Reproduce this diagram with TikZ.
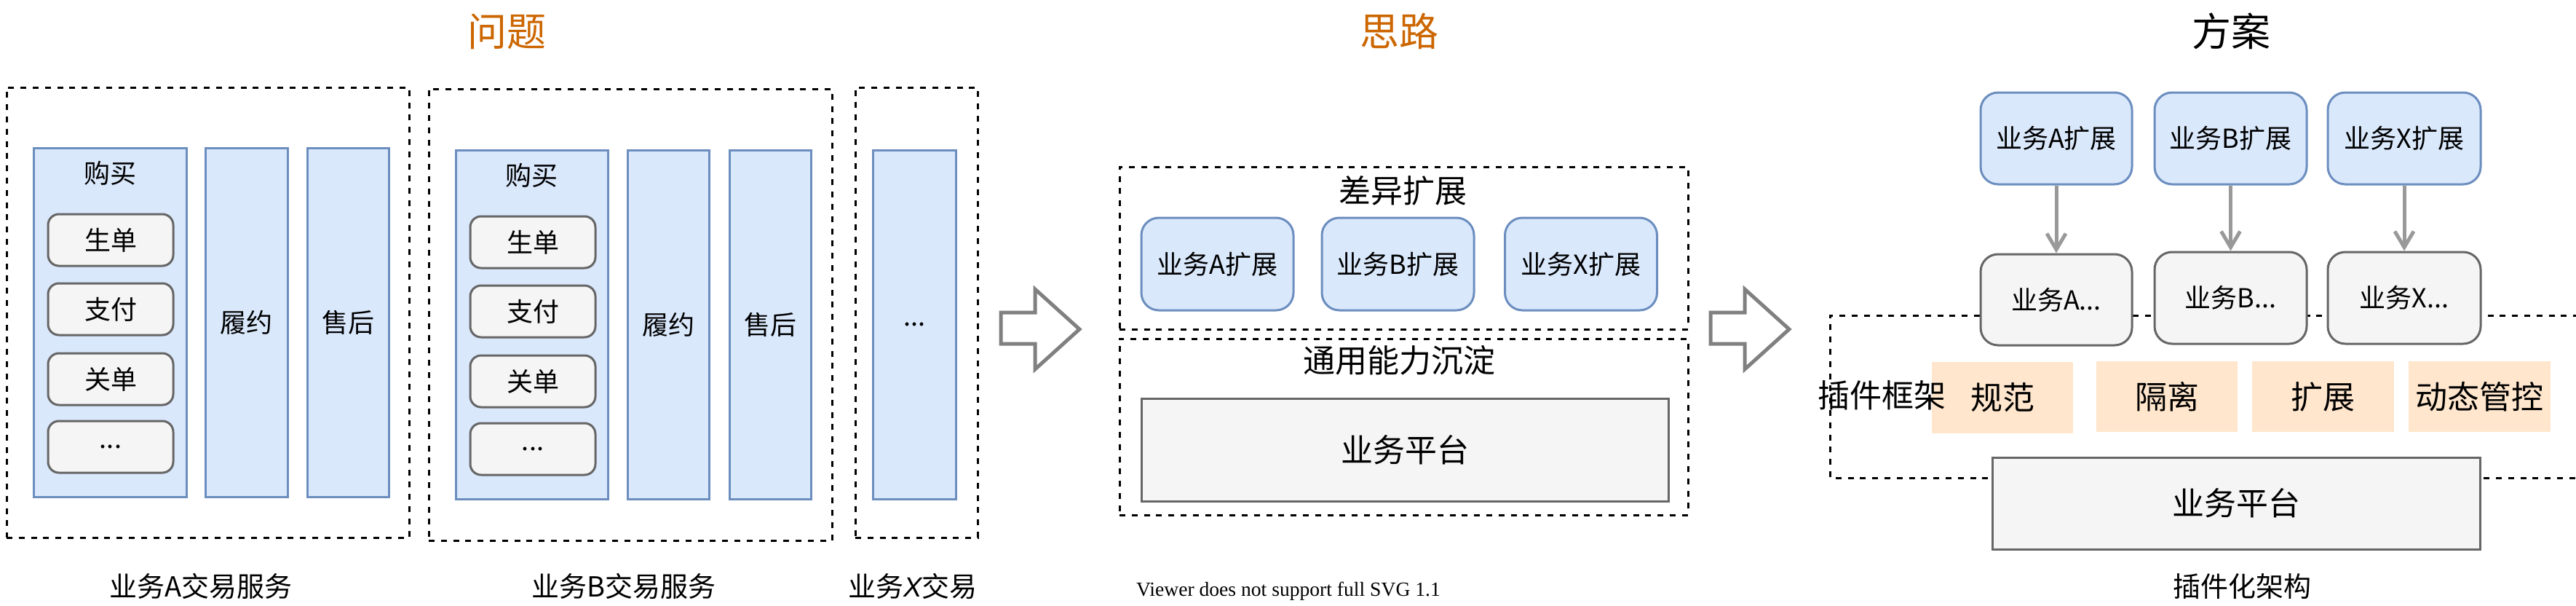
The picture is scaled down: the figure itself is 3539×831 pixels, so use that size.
\documentclass[tikz,border=0pt]{standalone}
\usepackage{fontspec}
\setmainfont{Noto Sans CJK SC}
\newfontfamily\latinsans{Liberation Sans}
\newfontfamily\serifv{Liberation Serif}
\usetikzlibrary{arrows.meta}
\definecolor{bfill}{HTML}{DAE8FC}
\definecolor{bline}{HTML}{6C8EBF}
\definecolor{gfill}{HTML}{F5F5F5}
\definecolor{gline}{HTML}{666666}
\definecolor{ofill}{HTML}{FFE6CC}
\definecolor{ttl}{HTML}{CC6600}
\definecolor{arrc}{HTML}{999999}
\definecolor{harrc}{HTML}{808080}
\newcommand\myfs[1]{\fontsize{#1}{#1}\selectfont}
\tikzset{
  dbox/.style={draw=black, line width=1.5pt, dash pattern=on 4pt off 4.4pt, inner sep=0},
  bcol/.style={draw=bline, fill=bfill, line width=1.5pt, inner sep=0, font=\myfs{18pt}},
  gbox/.style={draw=gline, fill=gfill, line width=1.5pt, rounded corners=7.5pt, inner sep=0, font=\myfs{18pt}},
  bext/.style={draw=bline, fill=bfill, line width=1.5pt, rounded corners=12pt, inner sep=0, font=\myfs{18pt}},
  plat/.style={draw=gline, fill=gfill, line width=1.5pt, inner sep=0, font=\myfs{22pt}},
  obox/.style={fill=ofill, inner sep=0, font=\myfs{22pt}},
  txt/.style={inner sep=0, font=\myfs{18pt}},
  sect/.style={inner sep=0, font=\myfs{22pt}},
  caplbl/.style={inner sep=0, font=\myfs{19pt}},
  ttlc/.style={inner sep=0, font=\myfs{27pt}, text=ttl},
  ttlk/.style={inner sep=0, font=\myfs{27pt}},
  hollow/.style={draw=harrc, fill=white, line width=2.5pt},
  conn/.style={draw=arrc, line width=2.5pt, -{Straight Barb[length=11pt,width=13pt]}},
}
\begin{document}
\begin{tikzpicture}[x=0.5pt,y=-0.5pt]
\useasboundingbox (0,0) rectangle (3539,831);

% ---------- Panel 1: 问题 ----------
\node[ttlc] (t1) at (696,43) {问题};

\node[dbox, minimum width=276.5pt, minimum height=309pt] (boxA) at (285.5,429) {};
\node[bcol, minimum width=105pt, minimum height=239.5pt] (buyA) at (151,442.5) {};
\node[txt] (buyAl) at (151,238) {购买};
\node[gbox, minimum width=86pt, minimum height=35.5pt] (a1) at (152,329.5) {生单};
\node[gbox, minimum width=86pt, minimum height=35.5pt] (a2) at (152,424.5) {支付};
\node[gbox, minimum width=86pt, minimum height=35.5pt] (a3) at (152,520.5) {关单};
\node[gbox, minimum width=86pt, minimum height=35.5pt] (a4) at (152,613.5) {...};
\node[bcol, minimum width=56.5pt, minimum height=239.5pt] (fA) at (338.5,442.5) {履约};
\node[bcol, minimum width=56pt, minimum height=239.5pt] (sA) at (478,442.5) {售后};

\node[dbox, minimum width=277pt, minimum height=310pt] (boxB) at (866,432) {};
\node[bcol, minimum width=104.5pt, minimum height=239.5pt] (buyB) at (730.5,445.5) {};
\node[txt] (buyBl) at (730.5,241) {购买};
\node[gbox, minimum width=86pt, minimum height=35.5pt] (b1) at (732,332.5) {生单};
\node[gbox, minimum width=86pt, minimum height=35.5pt] (b2) at (732,427.5) {支付};
\node[gbox, minimum width=86pt, minimum height=35.5pt] (b3) at (732,523.5) {关单};
\node[gbox, minimum width=86pt, minimum height=35.5pt] (b4) at (732,616.5) {...};
\node[bcol, minimum width=56pt, minimum height=239.5pt] (fB) at (918,445.5) {履约};
\node[bcol, minimum width=56pt, minimum height=239.5pt] (sB) at (1058,445.5) {售后};

\node[dbox, minimum width=84pt, minimum height=309pt] (boxX) at (1259,429) {};
\node[bcol, minimum width=57pt, minimum height=239.5pt] (colX) at (1256,445.5) {...};

\node[caplbl] (lA) at (276,805) {业务A交易服务};
\node[caplbl] (lB) at (857,805) {业务B交易服务};
\node[caplbl] (lX) at (1254,805) {业务{\latinsans\itshape X}交易};

% hollow arrow 1
\draw[hollow] (1375,429) -- (1422,429) -- (1422,397) -- (1483,452) -- (1422,507) -- (1422,472) -- (1375,472) -- cycle;

% ---------- Panel 2: 思路 ----------
\node[ttlc] (t2) at (1922,43) {思路};

\node[dbox, minimum width=390.5pt, minimum height=111.5pt] (diff) at (1928.5,340.5) {};
\node[sect] (diffl) at (1927,262) {差异扩展};
\node[bext, minimum width=104.5pt, minimum height=63.5pt] (xa) at (1672.5,362.5) {业务A扩展};
\node[bext, minimum width=104.5pt, minimum height=63.5pt] (xb) at (1920.5,362.5) {业务B扩展};
\node[bext, minimum width=104.5pt, minimum height=63.5pt] (xx) at (2172,362.5) {业务X扩展};

\node[dbox, minimum width=390.5pt, minimum height=121pt] (common) at (1928.5,586) {};
\node[sect] (commonl) at (1922,495) {通用能力沉淀};
\node[plat, minimum width=362pt, minimum height=70.5pt] (plat2) at (1930,617.5) {业务平台};

\node[inner sep=0, font=\serifv\myfs{13.8pt}] (viewer) at (1770,812) {Viewer does not support full SVG 1.1};

% hollow arrow 2
\begin{scope}[xshift=487.5pt]
\draw[hollow] (1375,429) -- (1422,429) -- (1422,397) -- (1483,452) -- (1422,507) -- (1422,472) -- (1375,472) -- cycle;
\end{scope}

% ---------- Panel 3: 方案 ----------
\node[ttlk] (t3) at (3065,43) {方案};

\draw[dbox] (3560,433) -- (2514,433) -- (2514,656) -- (3560,656);

\node[bext, minimum width=104pt, minimum height=63pt] (ea) at (2825,190) {业务A扩展};
\node[bext, minimum width=104.5pt, minimum height=63pt] (eb) at (3064.5,190) {业务B扩展};
\node[bext, minimum width=105pt, minimum height=63pt] (ex) at (3303,190) {业务X扩展};

\node[gbox, rounded corners=12pt, minimum width=104pt, minimum height=62.5pt] (za) at (2825,411.5) {业务A...};
\node[gbox, rounded corners=12pt, minimum width=104.5pt, minimum height=63pt] (zb) at (3064.5,409) {业务B...};
\node[gbox, rounded corners=12pt, minimum width=105pt, minimum height=63pt] (zx) at (3303,409) {业务X...};

\draw[conn] (ea.south) -- (za.north);
\draw[conn] (eb.south) -- (zb.north);
\draw[conn] (ex.south) -- (zx.north);

\node[obox, minimum width=97pt, minimum height=49pt] (o1) at (2751,546) {规范};
\node[obox, minimum width=97pt, minimum height=48.5pt] (o2) at (2977,544.5) {隔离};
\node[obox, minimum width=97.5pt, minimum height=48.5pt] (o3) at (3191.5,544.5) {扩展};
\node[obox, minimum width=97.5pt, minimum height=48.5pt] (o4) at (3406.5,544.5) {动态管控};

\node[sect] (pf) at (2585,543) {插件框架};

\node[plat, minimum width=335pt, minimum height=63pt] (plat3) at (3072,691) {业务平台};

\node[caplbl] (l3) at (3080,805) {插件化架构};
\end{tikzpicture}
\end{document}
